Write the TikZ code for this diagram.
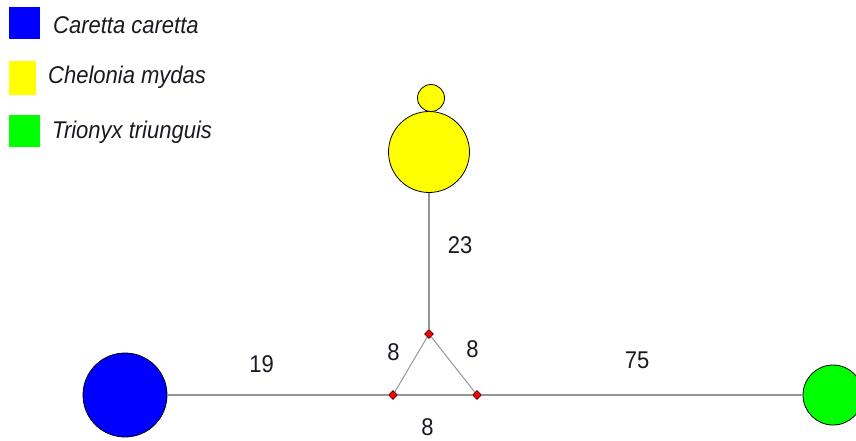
\documentclass[tikz,border=0pt]{standalone}
\usepackage{fontspec}
\setmainfont{Liberation Sans}
\usetikzlibrary{shapes.geometric}
\definecolor{cblue}{RGB}{0,0,255}
\definecolor{cyellow}{RGB}{255,255,0}
\definecolor{cgreen}{RGB}{0,255,0}
\definecolor{edgegray}{RGB}{150,150,150}
\definecolor{txt}{RGB}{25,25,35}
\begin{document}
\begin{tikzpicture}[x=1pt,y=-1pt,
  hap/.style={circle,draw=black,line width=0.8pt,inner sep=0pt},
  med/.style={diamond,draw=black,fill=red,line width=0.4pt,inner sep=0pt,minimum size=9pt},
  edge/.style={draw=edgegray,line width=1.3pt},
  lbl/.style={text=txt,font=\fontsize{22}{24}\selectfont,inner sep=0pt},
  leg/.style={text=txt,font=\fontsize{22}{24}\selectfont\itshape,inner sep=0pt,anchor=west},
  sq/.style={inner sep=0pt,draw=none}]
\useasboundingbox (0,0) rectangle (856,440);
% legend
\node[sq,fill=cblue,minimum width=31pt,minimum height=32pt] (lb) at (24.5,22.5) {};
\node[sq,fill=cyellow,minimum width=27pt,minimum height=34pt] (ly) at (22.5,78) {};
\node[sq,fill=cgreen,minimum width=31pt,minimum height=32pt] (lg) at (24.5,131) {};
\node[leg] (tb) at (53,25) {\scalebox{1}[1.1]{Caretta caretta}};
\node[leg] (ty) at (48,77) {\scalebox{1}[1.1]{Chelonia mydas}};
\node[leg] (tg) at (52,132) {\scalebox{1}[1.1]{Trionyx triunguis}};
% median vertices
\node[med] (mt) at (429,334) {};
\node[med] (ml) at (393,395) {};
\node[med] (mr) at (477,395) {};
% haplotypes
\node[hap,fill=cyellow,minimum size=81pt] (y1) at (429,152) {};
\node[hap,fill=cyellow,minimum size=27pt] (y2) at (431,98) {};
\node[hap,fill=cblue,minimum size=84pt] (b1) at (125,395) {};
\node[hap,fill=cgreen,minimum size=60pt] (g1) at (833,395) {};
% edges
\path[edge] (y1.south) -- (mt.north);
\path[edge] (b1.east) -- (ml.west);
\path[edge] (ml.east) -- (mr.west);
\path[edge] (mr.east) -- (g1.west);
\path[edge,line width=1pt] (mt) -- (ml);
\path[edge,line width=1pt] (mt) -- (mr);
% redraw vertices on top
\node[med] at (mt) {};
\node[med] at (ml) {};
\node[med] at (mr) {};
% labels
\node[lbl] (l23) at (460,245.5) {\scalebox{1}[1.1]{23}};
\node[lbl] (l19) at (261.5,364) {\scalebox{1}[1.1]{19}};
\node[lbl] (l75) at (637,360.5) {\scalebox{1}[1.1]{75}};
\node[lbl] (l8a) at (393.5,352) {\scalebox{1}[1.1]{8}};
\node[lbl] (l8b) at (472.5,349.5) {\scalebox{1}[1.1]{8}};
\node[lbl] (l8c) at (427.5,427.5) {\scalebox{1}[1.1]{8}};
\end{tikzpicture}
\end{document}
